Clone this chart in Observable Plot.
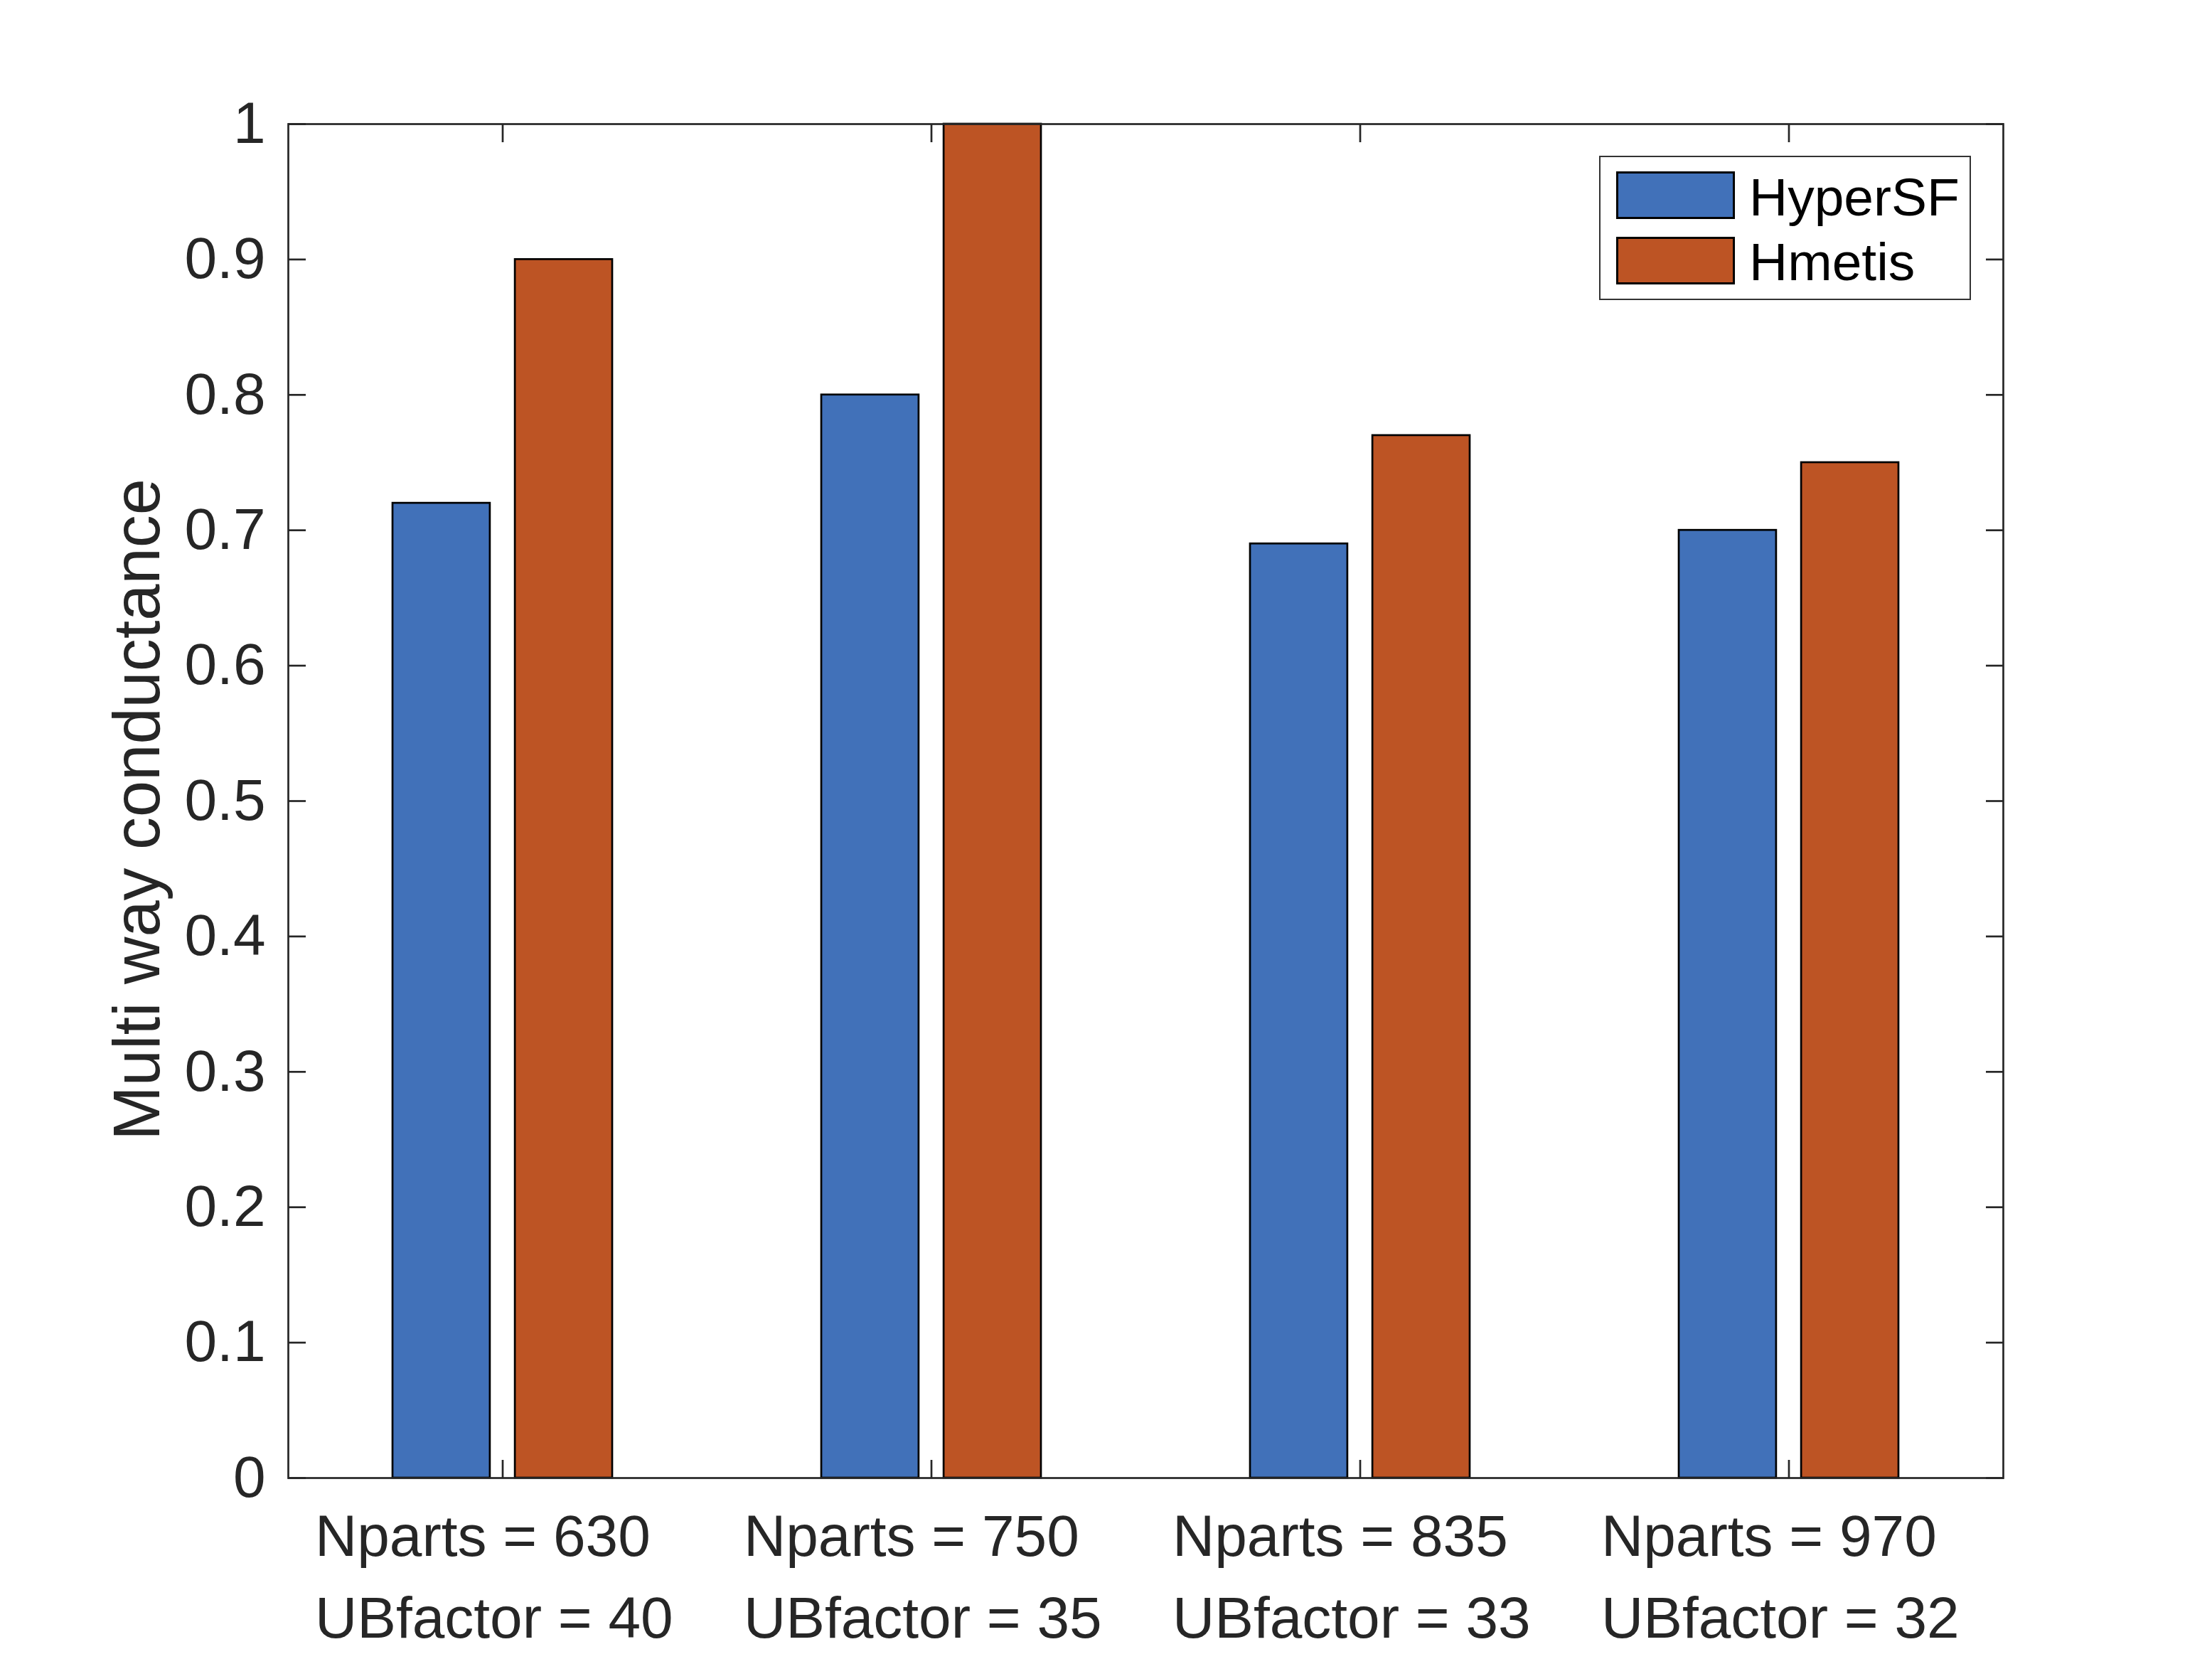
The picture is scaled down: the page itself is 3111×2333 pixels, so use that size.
<!DOCTYPE html>
<html>
<head>
<meta charset="utf-8">
<script src="https://cdn.jsdelivr.net/npm/d3@7"></script>
<script src="https://cdn.jsdelivr.net/npm/@observablehq/plot@0.6"></script>
<style>
  html, body { margin: 0; padding: 0; background: white; overflow: hidden; }
  #wrap { position: relative; width: 3111px; height: 2333px; }
  #legend { position: absolute; left: 2249px; top: 219px; width: 523px; height: 203px;
    box-sizing: border-box; border: 2.6px solid #333; background: white;
    font-family: "Liberation Sans", Arial, sans-serif; font-size: 75px; color: #000; }
  .sw { position: absolute; left: 22px; width: 167px; height: 67px; box-sizing: border-box; border: 3px solid #000; }
  .lt { position: absolute; left: 209px; line-height: 75px; white-space: nowrap; }
</style>
</head>
<body>
<div id="wrap"></div>
<script>
// ---- data ----
const nparts = [630, 750, 835, 970];
const ubfactor = [40, 35, 33, 32];
const hyperSF = [0.72, 0.80, 0.69, 0.70];
const hmetis = [0.90, 1.00, 0.77, 0.75];
const seriesNames = ["HyperSF", "Hmetis"];
const seriesColors = ["#4171b9", "#bd5424"];
const yTicks = [0, 0.1, 0.2, 0.3, 0.4, 0.5, 0.6, 0.7, 0.8, 0.9, 1];
const yTickLabels = ["0", "0.1", "0.2", "0.3", "0.4", "0.5", "0.6", "0.7", "0.8", "0.9", "1"];
const yLabel = "Multi way conductance";

// ---- derived tables ----
const groups = nparts.map((n, i) => `Nparts = ${n}\nUBfactor = ${ubfactor[i]}`);
const rowsA = groups.map((g, i) => ({group: g, value: hyperSF[i]}));
const rowsB = groups.map((g, i) => ({group: g, value: hmetis[i]}));

const W = 3111, H = 2333;
const mL = 405, mR = 294, mT = 174, mB = 255;
const step = (W - mL - mR) / groups.length;
const barFrac = 0.227, offFrac = 0.1427;
const innerA = step * (0.5 - offFrac - barFrac / 2);
const outerA = step * (0.5 + offFrac - barFrac / 2);

const ink = "#262626";
const lw = 2.7;

const chart = Plot.plot({
  width: W, height: H,
  marginLeft: mL, marginRight: mR, marginTop: mT, marginBottom: mB,
  style: {fontFamily: "'Liberation Sans', Arial, sans-serif", fontSize: "82px", color: ink, background: "white"},
  x: {type: "band", domain: groups, padding: 0},
  y: {domain: [0, 1]},
  marks: [
    Plot.barY(rowsA, {x: "group", y: "value", fill: seriesColors[0], stroke: "#000", strokeWidth: lw,
      insetLeft: innerA, insetRight: outerA}),
    Plot.barY(rowsB, {x: "group", y: "value", fill: seriesColors[1], stroke: "#000", strokeWidth: lw,
      insetLeft: outerA, insetRight: innerA}),
    Plot.axisY({ticks: yTicks, tickFormat: (d) => yTickLabels[yTicks.indexOf(d)], tickSize: -25, tickPadding: 57,
      stroke: ink, strokeWidth: lw, fill: ink, label: null}),
    Plot.axisY({anchor: "right", ticks: yTicks, tickSize: -25, stroke: ink, strokeWidth: lw, fill: "none", label: null}),
    Plot.axisX({anchor: "bottom", tickSize: -25, stroke: ink, strokeWidth: lw, fill: "none", label: null}),
    Plot.axisX({anchor: "top", tickSize: -25, stroke: ink, strokeWidth: lw, fill: "none", label: null}),
    Plot.text(groups, {x: (d) => d, text: (d) => d, frameAnchor: "bottom", lineAnchor: "top",
      textAnchor: "start", dx: -264, dy: 28, lineHeight: 1.4, fill: ink, fontSize: 82}),
    Plot.text([yLabel], {frameAnchor: "left", rotate: -90, dx: -211, dy: 12, textAnchor: "middle",
      lineAnchor: "middle", fill: ink, fontSize: 92}),
    Plot.frame({stroke: ink, strokeWidth: lw})
  ]
});

const wrap = document.getElementById("wrap");
wrap.appendChild(chart);

// legend (inside axes, top-right)
const legend = document.createElement("div");
legend.id = "legend";
seriesNames.forEach((name, i) => {
  const sw = document.createElement("div");
  sw.className = "sw";
  sw.style.top = (20 + i * 92) + "px";
  sw.style.background = seriesColors[i];
  legend.appendChild(sw);
  const t = document.createElement("span");
  t.className = "lt";
  t.style.top = (19 + i * 91) + "px";
  t.textContent = name;
  legend.appendChild(t);
});
wrap.appendChild(legend);
</script>
</body>
</html>
